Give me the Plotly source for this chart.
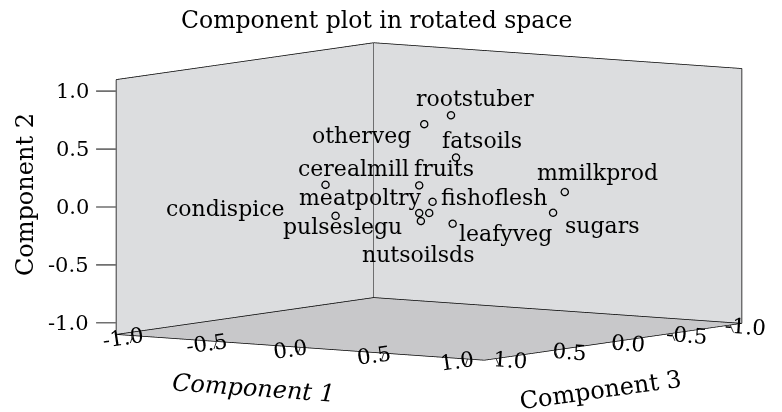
import plotly.graph_objects as go

labels = ["rootstuber", "otherveg", "fatsoils", "cerealmill", "fruits", "fishoflesh",
          "condispice", "meatpoltry", "nutsoilsds", "pulseslegu", "leafyveg",
          "mmilkprod", "sugars"]
component1 = [0.20, 0.18, 0.30, -0.27, 0.22, 0.02, -0.14, 0.15, -0.07, 0.09, 0.00, 0.60, 0.81]
component2 = [0.78, 0.73, 0.44, 0.19, 0.22, 0.00, -0.05, -0.04, -0.12, -0.13, -0.22, 0.10, 0.00]
component3 = [0.10, 0.30, 0.20, 0.50, 0.40, 0.00, 0.60, 0.30, -0.10, 0.20, -0.20, -0.30, 0.10]
label_dx = [24, -62, 26, 28, 25, 62, -110, -58, -11, -78, 53, 33, 49]
label_dy = [17, -11, 17, 16, 17, 4, 7, 15, -42, -6, -10, 19, -13]

tick_vals = [-1.0, -0.5, 0.0, 0.5, 1.0]
tick_text = ["-1.0", "-0.5", "0.0", "0.5", "1.0"]
R = 1.1

FONT = "DejaVu Serif"

fig = go.Figure()

# frame edges of the box (x = comp3, y = comp1, z = comp2)
ex, ey, ez = [], [], []
def seg(p, q):
    ex.extend([p[0], q[0], None]); ey.extend([p[1], q[1], None]); ez.extend([p[2], q[2], None])
seg((R, -R, -R), (R, -R, R))
seg((R, -R, R), (-R, -R, R))
seg((-R, -R, -R), (-R, -R, R))
seg((-R, -R, R), (-R, R, R))
seg((-R, R, -R), (-R, R, R))
seg((R, -R, -R), (-R, -R, -R))
seg((-R, -R, -R), (-R, R, -R))
seg((-R, R, -R), (R, R, -R))
seg((R, R, -R), (R, -R, -R))
fig.add_trace(go.Scatter3d(x=ex, y=ey, z=ez, mode="lines",
                           line=dict(color="black", width=1.5),
                           hoverinfo="skip", showlegend=False))

fig.add_trace(go.Scatter3d(x=component3, y=component1, z=component2, mode="markers",
                           marker=dict(symbol="circle-open", size=4.5,
                                       color="black", line=dict(width=1, color="black")),
                           text=labels, hoverinfo="text", showlegend=False))

annotations = [dict(x=c3, y=c1, z=c2, text=t, showarrow=False,
                    xanchor="center", yanchor="middle",
                    xshift=dx, yshift=dy,
                    font=dict(family=FONT, size=22, color="black"))
               for t, c1, c2, c3, dx, dy in zip(labels, component1, component2,
                                                 component3, label_dx, label_dy)]

# axis titles, anchored at the middle of each drawn axis edge
annotations += [
    dict(x=R, y=0, z=-R, text="Component 1", showarrow=False, textangle=4,
         xanchor="center", yanchor="middle", xshift=-47, yshift=-41,
         font=dict(family=FONT, size=24, color="black", style="italic")),
    dict(x=0, y=R, z=-R, text="Component 3", showarrow=False, textangle=-8,
         xanchor="center", yanchor="middle", xshift=-13, yshift=-48,
         font=dict(family=FONT, size=24, color="black")),
    dict(x=R, y=-R, z=0, text="Component 2", showarrow=False, textangle=-90,
         xanchor="center", yanchor="middle", xshift=-91, yshift=12,
         font=dict(family=FONT, size=24, color="black")),
]

# Component 2 ticks and tick labels on the left vertical edge
annotations += [dict(x=R, y=-R, z=v, text=t, showarrow=True, arrowhead=0,
                     arrowwidth=1.6, arrowcolor="#707070", ax=-20, ay=0,
                     xanchor="right", yanchor="middle", borderpad=6,
                     font=dict(family=FONT, size=21, color="black"))
                for v, t in zip(tick_vals, tick_text)]
# small tick marks on Component 1 and Component 3 edges
annotations += [dict(x=R, y=v, z=-R, text="", showarrow=True, arrowhead=0,
                     arrowwidth=1, arrowcolor="#333333", ax=-3, ay=9)
                for v in tick_vals]
annotations += [dict(x=v, y=R, z=-R, text="", showarrow=True, arrowhead=0,
                     arrowwidth=1, arrowcolor="#333333", ax=4, ay=9)
                for v in tick_vals]

axis_common = dict(range=[-R, R], tickvals=tick_vals, ticktext=tick_text,
                   showgrid=False, zeroline=False, showspikes=False,
                   showbackground=True, ticks="", mirror=False,
                   showline=True, linecolor="black", linewidth=1,
                   tickfont=dict(family=FONT, size=16, color="black"),
                   title=dict(text=""))

S = 2.23
CZ = -0.04
fig.update_layout(
    width=782, height=412,
    margin=dict(l=0, r=0, t=0, b=0),
    paper_bgcolor="white",
    title=dict(text="Component plot in rotated space", x=0.4715, y=0.971,
               xanchor="center", yanchor="middle",
               font=dict(family=FONT, size=23.5, color="black")),
    scene=dict(
        domain=dict(x=[0.0767, 1.0], y=[0.022, 1.0]),
        xaxis=dict(axis_common, backgroundcolor="#dcdddf"),
        yaxis=dict(axis_common, backgroundcolor="#dcdddf"),
        zaxis=dict(axis_common, backgroundcolor="#c8c8ca", showticklabels=False),
        aspectmode="manual",
        aspectratio=dict(x=S, y=S, z=0.57 * S),
        camera=dict(projection=dict(type="orthographic"),
                    eye=dict(x=0.819 * 2, y=0.573 * 2, z=0.1006 * 2 + CZ),
                    center=dict(x=0, y=0, z=CZ),
                    up=dict(x=0, y=0, z=1)),
        annotations=annotations,
    ),
)

fig.write_html("out.html")
